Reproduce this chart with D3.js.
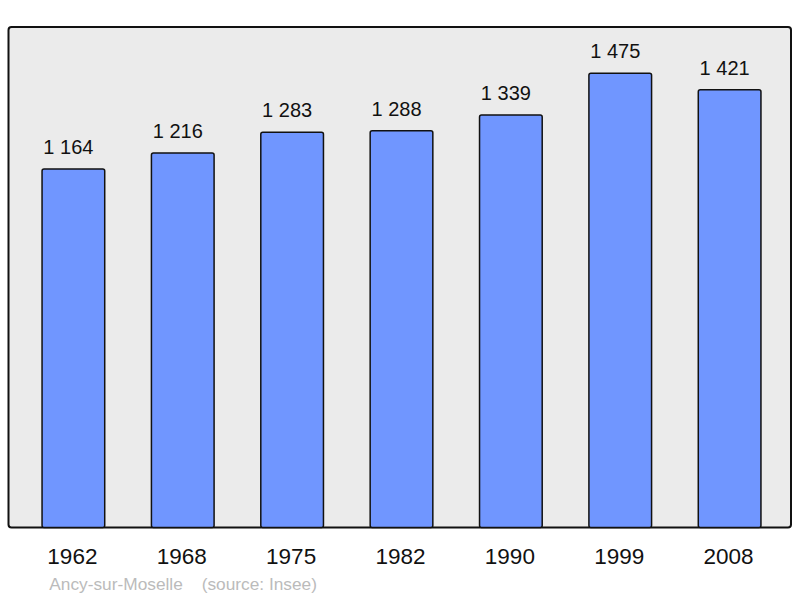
<!DOCTYPE html>
<html><head><meta charset="utf-8">
<script src="https://cdn.jsdelivr.net/npm/d3@7"></script>
<style>body{margin:0;background:#fff}svg{display:block}</style>
</head><body>
<svg id="c" width="800" height="598"></svg>
<script>
const years = ["1962","1968","1975","1982","1990","1999","2008"];
const population = [1164,1216,1283,1288,1339,1475,1421];
const valueLabels = ["1 164","1 216","1 283","1 288","1 339","1 475","1 421"];
const commune = "Ancy-sur-Moselle";
const source = "(source: Insee)";

const svg = d3.select("#c");
const frame = {x0:8.5, y0:27, x1:791, y1:527.5};
svg.append("rect").attr("x",frame.x0).attr("y",frame.y0)
  .attr("width",frame.x1-frame.x0).attr("height",frame.y1-frame.y0)
  .attr("rx",3).attr("fill","#ebebeb").attr("stroke","#111").attr("stroke-width",2);

const x = d3.scaleBand().domain(years).range([18.7, 784.3]).paddingInner(0.427).paddingOuter(0.2135);
const y = d3.scaleLinear().domain([0,1625]).range([frame.y1, frame.y0]);

const g = svg.append("g");
g.selectAll("rect.bar").data(years).join("rect").attr("class","bar")
  .attr("x",d=>x(d)).attr("width",x.bandwidth())
  .attr("y",(d,i)=>y(population[i])).attr("height",(d,i)=>frame.y1-y(population[i]))
  .attr("rx",2).attr("fill","#7096ff").attr("stroke","#111").attr("stroke-width",1.5);

g.selectAll("text.val").data(years).join("text").attr("class","val")
  .attr("x",d=>x(d)+x.bandwidth()/2-5).attr("y",(d,i)=>y(population[i])-15)
  .attr("text-anchor","middle").attr("font-family","Liberation Sans, Arial, sans-serif")
  .attr("font-size",20).attr("fill","#111").text((d,i)=>valueLabels[i]);

const xAxis = d3.axisBottom(x).tickSize(0).tickPadding(0);
const ax = svg.append("g").attr("transform",`translate(-1,${frame.y1})`).call(xAxis);
ax.select(".domain").remove();
ax.selectAll("text").attr("y",36.8).attr("dy",null)
  .attr("font-family","Liberation Sans, Arial, sans-serif").attr("font-size",22.5).attr("fill","#111");

svg.append("text").attr("x",49.3).attr("y",590).attr("font-family","Liberation Sans, Arial, sans-serif")
  .attr("font-size",17.3).attr("fill","#bbbbbb").text(commune);
svg.append("text").attr("x",201.7).attr("y",590).attr("font-family","Liberation Sans, Arial, sans-serif")
  .attr("font-size",17.3).attr("fill","#bbbbbb").text(source);
</script>
</body></html>
